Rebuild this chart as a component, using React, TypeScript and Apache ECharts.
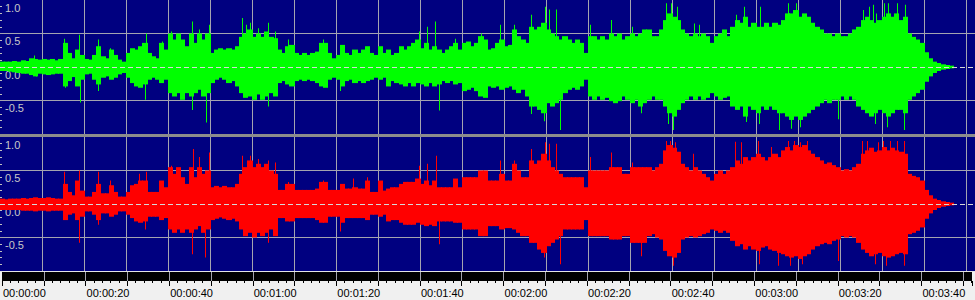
import React, { useEffect, useRef } from 'react';
import * as echarts from 'echarts';

// ---- data (amplitudes in hundredths, one bucket per second, t = 0..226 s) ----
const greenTop = [
  8, 8, 8, 9, 8, 10, 9, 13, 12, 11, 12, 11, 12, 10, 12, 36, 21, 13, 26, 18,
  12, 11, 18, 31, 16, 13, 26, 18, 11, 8, 21, 28, 26, 31, 36, 21, 16, 13, 36, 26,
  50, 41, 50, 41, 31, 50, 36, 50, 41, 50, 21, 26, 28, 26, 28, 26, 31, 45, 50, 56,
  45, 50, 45, 53, 45, 43, 26, 21, 31, 33, 21, 18, 21, 18, 21, 23, 36, 36, 21, 13,
  18, 33, 21, 18, 26, 21, 26, 31, 21, 18, 31, 21, 26, 18, 21, 31, 26, 31, 36, 41,
  28, 36, 26, 31, 26, 21, 26, 31, 36, 26, 36, 38, 31, 36, 46, 41, 26, 28, 36, 41,
  31, 33, 56, 46, 41, 36, 60, 56, 60, 66, 56, 50, 46, 41, 46, 41, 36, 41, 36, 21,
  46, 46, 41, 46, 41, 50, 46, 50, 41, 46, 50, 46, 50, 56, 56, 46, 46, 56, 70, 80,
  75, 70, 56, 50, 46, 50, 46, 50, 46, 36, 46, 50, 56, 46, 60, 70, 66, 75, 60, 66,
  60, 60, 66, 60, 66, 63, 70, 80, 80, 85, 75, 80, 75, 66, 60, 56, 50, 50, 46, 50,
  46, 46, 50, 56, 60, 70, 75, 70, 66, 70, 75, 80, 75, 80, 70, 75, 50, 45, 41, 36,
  22, 13, 8, 6, 4, 3, 2,
];
const greenBottom = [
  6, 6, 7, 8, 9, 10, 10, 12, 14, 10, 11, 12, 11, 10, 10, 29, 21, 15, 29, 19,
  11, 10, 19, 26, 16, 14, 19, 16, 11, 9, 16, 24, 29, 31, 26, 19, 16, 19, 24, 19,
  39, 44, 39, 49, 39, 44, 39, 34, 44, 39, 24, 19, 16, 19, 24, 21, 29, 39, 46, 44,
  49, 41, 49, 44, 39, 44, 24, 21, 26, 29, 21, 19, 21, 19, 21, 24, 29, 31, 19, 16,
  19, 29, 21, 19, 24, 21, 24, 21, 19, 16, 19, 16, 29, 21, 24, 26, 29, 24, 29, 24,
  26, 29, 24, 29, 26, 21, 24, 21, 26, 24, 36, 34, 31, 36, 44, 46, 29, 31, 29, 34,
  31, 29, 34, 39, 34, 44, 59, 59, 64, 69, 54, 59, 54, 49, 39, 34, 31, 34, 29, 19,
  44, 49, 44, 49, 46, 51, 54, 51, 44, 49, 54, 49, 59, 54, 49, 44, 49, 49, 59, 69,
  74, 64, 54, 49, 44, 49, 44, 49, 46, 39, 44, 49, 46, 44, 59, 64, 59, 74, 59, 64,
  69, 59, 64, 59, 64, 69, 69, 74, 79, 74, 79, 74, 69, 64, 59, 54, 49, 54, 49, 49,
  44, 49, 44, 49, 59, 64, 69, 74, 69, 64, 69, 74, 69, 64, 64, 69, 49, 44, 39, 34,
  22, 14, 9, 6, 4, 3, 2,
];
const redTop = [
  8, 7, 8, 8, 8, 9, 8, 9, 10, 9, 9, 10, 9, 8, 8, 30, 18, 13, 35, 20,
  11, 11, 18, 30, 16, 16, 28, 18, 11, 11, 18, 28, 30, 35, 35, 18, 18, 18, 35, 25,
  55, 45, 55, 40, 30, 55, 40, 55, 45, 50, 25, 27, 25, 27, 25, 25, 30, 45, 55, 65,
  55, 60, 55, 60, 50, 45, 21, 21, 30, 30, 21, 21, 21, 21, 21, 23, 33, 33, 21, 21,
  21, 30, 23, 23, 25, 23, 23, 35, 18, 18, 35, 20, 23, 25, 25, 30, 33, 33, 33, 38,
  30, 35, 28, 35, 25, 25, 25, 25, 38, 25, 40, 40, 40, 40, 50, 50, 35, 35, 35, 45,
  35, 35, 60, 50, 40, 40, 65, 60, 65, 75, 65, 55, 50, 45, 40, 40, 40, 40, 40, 25,
  50, 50, 50, 50, 50, 55, 55, 55, 45, 45, 55, 55, 55, 55, 55, 50, 55, 60, 80, 88,
  84, 78, 60, 55, 50, 55, 50, 45, 40, 35, 45, 50, 45, 50, 55, 65, 60, 70, 65, 70,
  75, 70, 65, 70, 75, 70, 80, 85, 80, 88, 85, 88, 80, 75, 70, 65, 60, 62, 58, 55,
  50, 52, 50, 55, 60, 75, 80, 84, 78, 80, 85, 80, 84, 80, 78, 75, 45, 42, 40, 35,
  21, 13, 8, 6, 4, 3, 2,
];
const redBottom = [
  9, 9, 9, 9, 9, 10, 10, 10, 11, 10, 10, 11, 10, 10, 10, 24, 16, 14, 24, 19,
  11, 11, 16, 24, 14, 14, 19, 16, 11, 11, 16, 21, 26, 28, 26, 19, 19, 19, 24, 21,
  38, 43, 38, 43, 38, 43, 38, 33, 43, 38, 24, 22, 20, 22, 24, 22, 26, 38, 48, 43,
  50, 43, 48, 43, 38, 48, 21, 21, 26, 26, 21, 21, 21, 21, 21, 24, 28, 28, 19, 19,
  19, 28, 21, 21, 21, 21, 21, 24, 16, 16, 19, 16, 26, 24, 24, 28, 31, 31, 31, 28,
  31, 33, 31, 33, 26, 26, 26, 26, 28, 28, 38, 38, 38, 38, 48, 48, 33, 33, 33, 38,
  36, 36, 38, 43, 48, 48, 58, 58, 68, 73, 63, 58, 53, 48, 38, 38, 38, 38, 38, 24,
  48, 48, 48, 48, 48, 53, 53, 53, 48, 48, 58, 58, 58, 58, 48, 45, 50, 53, 70, 78,
  80, 73, 53, 50, 48, 50, 48, 45, 43, 38, 40, 43, 40, 43, 55, 63, 60, 68, 63, 68,
  70, 65, 63, 68, 70, 73, 75, 78, 80, 78, 82, 78, 75, 68, 63, 60, 58, 60, 55, 53,
  48, 50, 48, 50, 58, 68, 73, 78, 75, 73, 78, 80, 78, 75, 73, 75, 45, 43, 40, 35,
  22, 14, 9, 6, 4, 3, 2,
];

// isolated peaks: [time in s, amplitude]
const greenPeaks = [
  [8.2, 0.17], [15.2, 0.42], [18.9, 0.48], [23.3, 0.41], [26.3, 0.28], [34.7, 0.5], [38.6, 0.38],
  [40.8, 0.53], [45.7, 0.68], [47.3, 0.56], [49.8, 0.63], [57.7, 0.73], [58.6, 0.63], [59.5, 0.66],
  [61.4, 0.58], [63.9, 0.66], [65.5, 0.53], [68.5, 0.41], [76.8, 0.41], [99.8, 0.53], [101.6, 0.6],
  [103.6, 0.68], [108.3, 0.42], [114.6, 0.5], [119, 0.63], [122.3, 0.63], [126.5, 0.78], [129.8, 0.9],
  [130.6, 0.86], [132.3, 0.86], [140.5, 0.63], [145.5, 0.7], [150.5, 0.6], [158.6, 0.95], [159.8, 0.95],
  [161.2, 0.9], [165.3, 0.65], [166.5, 0.63], [175.3, 0.78], [177.2, 0.9], [180.9, 0.9], [187.5, 0.95],
  [189.6, 0.95], [205.5, 0.85], [206.8, 0.9], [207.8, 0.93], [208.6, 0.8], [210.5, 0.95], [211.5, 0.95],
  [213.5, 0.95], [215.5, 0.93],
  [8.5, -0.14], [15.5, -0.31], [19, -0.53], [23.4, -0.36], [34.5, -0.49], [45.8, -0.64], [49, -0.83],
  [63.7, -0.59], [81, -0.36], [104.5, -0.65], [126.3, -0.7], [129.6, -0.81], [133.3, -0.94],
  [152.5, -0.69], [159, -0.85], [160.3, -0.94], [177.5, -0.82], [180.6, -0.85], [185.5, -0.94],
  [188.3, -0.92], [190.5, -0.9], [199.4, -0.78], [208.4, -0.85], [211.2, -0.9], [215.2, -0.94],
];
const redPeaks = [
  [15.2, 0.48], [18.9, 0.5], [23.3, 0.48], [26.3, 0.35], [33.2, 0.45], [34.7, 0.48], [40.8, 0.57],
  [45.9, 0.82], [47.3, 0.7], [49.8, 0.77], [57.7, 0.72], [59.5, 0.72], [61.3, 0.67], [63.9, 0.65],
  [65.5, 0.62], [68.5, 0.33], [76.8, 0.35], [84, 0.38], [87.3, 0.4], [99.8, 0.57], [101.7, 0.6],
  [103.7, 0.72], [119, 0.65], [122.3, 0.65], [126.4, 0.82], [129.8, 0.92], [130.8, 0.9], [132.4, 0.9],
  [140.5, 0.7], [145.4, 0.77], [150.5, 0.62], [158.5, 0.94], [159.5, 0.94], [160.8, 0.92], [165, 0.75],
  [175, 0.93], [176.5, 0.92], [180.5, 0.94], [183.5, 0.85], [187.5, 0.94], [189, 0.94], [190.5, 0.92],
  [192, 0.94], [205.3, 0.94], [206.5, 0.94], [209, 0.92], [210.3, 0.94], [211.8, 0.94], [213.5, 0.94],
  [215.3, 0.94],
  [18.9, -0.58], [23.4, -0.31], [34.5, -0.38], [45.8, -0.75], [48.8, -0.8], [63.7, -0.58], [81, -0.41],
  [104.5, -0.6], [129.6, -0.8], [133.2, -0.9], [152.6, -0.78], [160.3, -0.92], [180.6, -0.9],
  [185.3, -0.92], [188, -0.92], [191, -0.9], [199.5, -0.85], [208.3, -0.9], [211, -0.92], [215.2, -0.92],
];

const TIME_SPAN = 232.1; // seconds visible across the view
const yTicks = [-1, -0.5, 0, 0.5, 1];

const NAVY = '#000080';
const GRID = '#a4a4b0';
const LABEL_FONT = 'Liberation Sans, Arial, sans-serif';

function bodyData(top: number[], bottom: number[]) {
  return top.map((v, i) => [i, v / 100, -bottom[i] / 100]);
}

function pad(n: number) {
  return n < 10 ? '0' + n : '' + n;
}
function timeLabel(v: number) {
  if (Math.abs(v % 20) > 1e-6) return '';
  const m = Math.floor(v / 60);
  const s = Math.round(v - m * 60);
  return '00:' + pad(m) + ':' + pad(s);
}

function bodySeries(data: number[][], xi: number, yi: number, color: string) {
  return {
    type: 'custom',
    xAxisIndex: xi,
    yAxisIndex: yi,
    clip: true,
    silent: true,
    z: 2,
    data,
    renderItem: (_p: any, api: any) => {
      const t = api.value(0);
      const a = api.coord([t, api.value(1)]);
      const b = api.coord([t + 1, api.value(2)]);
      const x0 = Math.floor(a[0]);
      const x1 = Math.ceil(b[0]);
      return {
        type: 'rect',
        shape: { x: x0, y: a[1], width: x1 - x0, height: b[1] - a[1] },
        style: { fill: color },
      };
    },
  };
}

function peakSeries(data: number[][], xi: number, yi: number, color: string) {
  return {
    type: 'custom',
    xAxisIndex: xi,
    yAxisIndex: yi,
    clip: true,
    silent: true,
    z: 3,
    data,
    renderItem: (_p: any, api: any) => {
      const t = api.value(0);
      const v = api.value(1);
      const a = api.coord([t, 0]);
      const b = api.coord([t, v]);
      const y0 = Math.min(a[1], b[1]);
      return {
        type: 'rect',
        shape: { x: Math.round(a[0]), y: y0, width: 1, height: Math.abs(b[1] - a[1]) },
        style: { fill: color },
      };
    },
  };
}

function panelXAxis(gi: number) {
  return {
    type: 'value',
    gridIndex: gi,
    min: 0,
    max: TIME_SPAN,
    interval: 10,
    axisLine: { show: false },
    axisTick: { show: false },
    axisLabel: { show: false },
    splitLine: { show: true, showMinLine: false, showMaxLine: false, lineStyle: { color: GRID, width: 1 } },
  };
}

function panelYAxis(gi: number) {
  return {
    type: 'value',
    gridIndex: gi,
    min: -1,
    max: 1,
    interval: 0.5,
    axisLine: { show: false },
    axisTick: { show: false, inside: true },
    minorTick: { show: true, splitNumber: 5, length: 2, lineStyle: { color: '#c0c0c0' } },
    axisLabel: {
      show: true,
      inside: true,
      align: 'left',
      verticalAlign: 'top',
      margin: 5,
      padding: [2, 0, 0, 0],
      color: '#c8c8c8',
      fontSize: 11,
      fontFamily: LABEL_FONT,
      showMinLabel: true,
      showMaxLabel: true,
      formatter: (v: number) => (v <= -1 ? '' : v.toFixed(1)),
    },
    splitLine: {
      show: true,
      lineStyle: { color: yTicks.map((v) => (Math.abs(v) === 0.5 ? GRID : 'rgba(0,0,0,0)')), width: 1 },
    },
  };
}

function zeroYAxis(gi: number) {
  return {
    type: 'value',
    gridIndex: gi,
    min: -1,
    max: 1,
    interval: 1,
    z: 6,
    axisLine: { show: false },
    axisTick: { show: false },
    axisLabel: { show: false },
    splitLine: {
      show: true,
      lineStyle: { color: ['rgba(0,0,0,0)', '#d8d8d8', 'rgba(0,0,0,0)'], width: 1, type: [5, 3] },
    },
  };
}

export default function App() {
  const ref = useRef<HTMLDivElement>(null);
  useEffect(() => {
    document.body.style.margin = '0';
    const chart = echarts.init(ref.current as HTMLDivElement, null, { renderer: 'svg' });
    const option: any = {
      animation: false,
      backgroundColor: '#f0f0f0',
      grid: [
        { left: 0, right: 0, top: 0, height: 134, show: true, backgroundColor: NAVY, borderWidth: 0 },
        { left: 0, right: 0, top: 137, height: 134, show: true, backgroundColor: NAVY, borderWidth: 0 },
        { left: 0, right: 0, top: 272, height: 9, show: true, backgroundColor: '#000000', borderWidth: 0 },
      ],
      xAxis: [
        panelXAxis(0),
        panelXAxis(1),
        {
          type: 'value',
          gridIndex: 2,
          position: 'bottom',
          min: 0,
          max: TIME_SPAN,
          interval: 10,
          axisLine: { show: false },
          axisTick: { show: true, length: 5, lineStyle: { color: '#000' } },
          minorTick: { show: true, splitNumber: 5, length: 2, lineStyle: { color: '#000' } },
          axisLabel: {
            show: true,
            align: 'left',
            verticalAlign: 'top',
            margin: 6,
            padding: [0, 0, 0, 1],
            color: '#000',
            fontSize: 11,
            fontFamily: LABEL_FONT,
            showMinLabel: true,
            showMaxLabel: true,
            hideOverlap: false,
            formatter: timeLabel,
          },
          splitLine: { show: true, showMinLine: false, showMaxLine: false, lineStyle: { color: GRID, width: 1 } },
        },
      ],
      yAxis: [
        panelYAxis(0),
        zeroYAxis(0),
        panelYAxis(1),
        zeroYAxis(1),
        { type: 'value', gridIndex: 2, min: 0, max: 1, show: false, splitLine: { show: false } },
      ],
      graphic: [
        { type: 'rect', shape: { x: 0, y: 134, width: 975, height: 3 }, style: { fill: '#8c8c8c' }, silent: true },
        { type: 'rect', shape: { x: 0, y: 271, width: 975, height: 1 }, style: { fill: '#e4e4e4' }, silent: true },
      ],
      series: [
        bodySeries(bodyData(greenTop, greenBottom), 0, 0, '#00ff00'),
        peakSeries(greenPeaks, 0, 0, '#00ff00'),
        bodySeries(bodyData(redTop, redBottom), 1, 2, '#ff0000'),
        peakSeries(redPeaks, 1, 2, '#ff0000'),
      ],
    };
    chart.setOption(option);
    return () => chart.dispose();
  }, []);
  return <div ref={ref} style={{ width: 975, height: 300 }} />;
}
